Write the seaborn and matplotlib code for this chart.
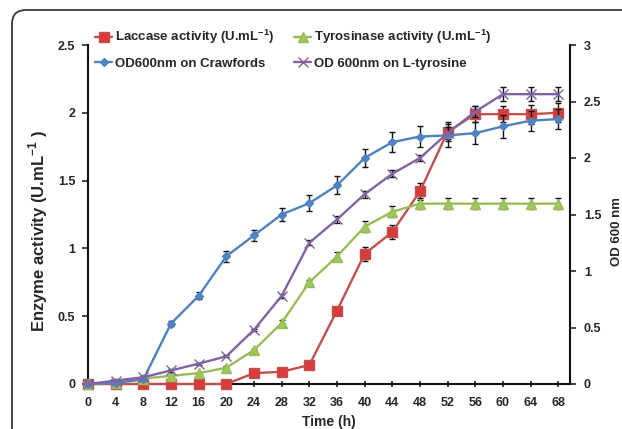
import matplotlib
matplotlib.use("Agg")
import matplotlib.pyplot as plt
import matplotlib.patches as mpatches
from matplotlib.transforms import IdentityTransform
import seaborn as sns

# -- data -------------------------------------------------------------------

TIME = [0, 4, 8, 12, 16, 20, 24, 28, 32, 36, 40, 44, 48, 52, 56, 60, 64, 68]

# enzyme activity, left axis (U/mL)
LACCASE = [0, 0, 0, 0, 0, 0, 0.08, 0.09, 0.14, 0.54, 0.96, 1.12, 1.42,
           1.86, 1.99, 1.99, 1.99, 2.0]
LACCASE_ERR = [0, 0, 0, 0, 0, 0, 0.01, 0.01, 0.01, 0.02, 0.05, 0.05, 0.06,
               0.07, 0.06, 0.06, 0.07, 0.07]
TYROSINASE = [0, 0.01, 0.04, 0.06, 0.08, 0.12, 0.25, 0.45, 0.75, 0.94, 1.16,
              1.27, 1.33, 1.33, 1.33, 1.33, 1.33, 1.33]
TYROSINASE_ERR = [0, 0, 0, 0, 0, 0.01, 0.01, 0.02, 0.02, 0.03, 0.04, 0.04,
                  0.04, 0.04, 0.04, 0.04, 0.04, 0.04]

# OD 600 nm, right axis
OD_CRAWFORDS = [0, 0.01, 0.04, 0.535, 0.78, 1.13, 1.315, 1.50, 1.60, 1.757,
                2.0, 2.14, 2.19, 2.20, 2.22, 2.28, 2.33, 2.345]
OD_CRAWFORDS_ERR = [0, 0, 0.01, 0.02, 0.03, 0.05, 0.05, 0.06, 0.07, 0.08,
                    0.08, 0.09, 0.09, 0.1, 0.1, 0.1, 0.09, 0.09]
OD_TYROSINE = [0, 0.03, 0.06, 0.12, 0.18, 0.245, 0.48, 0.78, 1.25, 1.456,
               1.68, 1.86, 2.0, 2.22, 2.41, 2.565, 2.565, 2.565]
OD_TYROSINE_ERR = [0, 0, 0.01, 0.01, 0.01, 0.01, 0.01, 0.02, 0.02, 0.03,
                   0.03, 0.03, 0.03, 0.05, 0.05, 0.06, 0.06, 0.06]

LEFT_TICKS = [0, 0.5, 1, 1.5, 2, 2.5]
LEFT_LABELS = ["0", "0.5", "1", "1.5", "2", "2.5"]
RIGHT_TICKS = [0, 0.5, 1, 1.5, 2, 2.5, 3]
RIGHT_LABELS = ["0", "0.5", "1", "1.5", "2", "2.5", "3"]

# -- style -------------------------------------------------------------------

sns.set_style("ticks")
plt.rcParams["font.family"] = ["Liberation Sans", "DejaVu Sans"]
plt.rcParams["mathtext.fontset"] = "custom"
plt.rcParams["mathtext.bf"] = "Liberation Sans:bold"
plt.rcParams["mathtext.rm"] = "Liberation Sans"

TXT = "#262626"
RED_LINE, RED_FILL = "#C0504D", "#D93B3B"
GREEN_LINE, GREEN_FILL = "#9BBB59", "#9CC957"
BLUE_LINE, BLUE_FILL = "#4F81BD", "#4A86C8"
PURPLE_LINE = "#8064A2"

W, H = 622, 429
fig = plt.figure(figsize=(W / 100, H / 100), dpi=100)
ax = fig.add_axes([88 / W, 1 - 384 / H, (570 - 88) / W, (384 - 45) / H])
ax2 = ax.twinx()

# rounded frame round the whole picture
frame = mpatches.FancyBboxPatch(
    (12, -30), 700, H - 10 + 30,
    boxstyle="round,pad=0,rounding_size=14",
    transform=IdentityTransform(), fill=False, ec="#3a3a3a", lw=1.3,
)
fig.patches.append(frame)


def draw(axis, y, err, line_c, fill_c, marker, ms, label):
    sns.lineplot(x=TIME, y=y, ax=axis, color=line_c, lw=1.7,
                 marker=marker, markersize=ms, markerfacecolor=fill_c,
                 markeredgecolor=line_c, markeredgewidth=1.0,
                 label=label, legend=False, clip_on=False, zorder=3)
    handle = axis.lines[-1]
    axis.errorbar(TIME, y, yerr=err, fmt="none", ecolor="#111111",
                  elinewidth=1.0, capsize=2.5, capthick=1.0, zorder=2,
                  clip_on=False)
    return handle


h_lac = draw(ax, LACCASE, LACCASE_ERR, RED_LINE, RED_FILL, "s", 7,
             r"Laccase activity (U.mL$^{\mathbf{-1}}$)")
h_tyr = draw(ax, TYROSINASE, TYROSINASE_ERR, GREEN_LINE, GREEN_FILL, "^", 7,
             r"Tyrosinase activity (U.mL$^{\mathbf{-1}}$)")
h_cra = draw(ax2, OD_CRAWFORDS, OD_CRAWFORDS_ERR, BLUE_LINE, BLUE_FILL, "D", 4.5,
             "OD600nm on Crawfords")
h_ltyr = draw(ax2, OD_TYROSINE, OD_TYROSINE_ERR, PURPLE_LINE, PURPLE_LINE, "x", 7,
              "OD 600nm on L-tyrosine")

# -- axes --------------------------------------------------------------------

ax.set_xlim(0, 69.7)
ax.set_ylim(0, 2.5)
ax2.set_ylim(0, 3)
ax.set_xticks(TIME)
ax.set_yticks(LEFT_TICKS)
ax2.set_yticks(RIGHT_TICKS)
ax.set_yticklabels(LEFT_LABELS)
ax2.set_yticklabels(RIGHT_LABELS)

for a in (ax, ax2):
    a.spines["top"].set_visible(False)
    for s in a.spines.values():
        s.set_linewidth(1.5)
        s.set_color("#111111")
ax.spines["right"].set_visible(False)
ax2.spines["left"].set_visible(False)
ax2.spines["bottom"].set_visible(False)

ax.tick_params(axis="x", direction="inout", length=5, width=1.2, pad=7,
               labelsize=9, labelcolor=TXT)
ax.tick_params(axis="y", direction="out", length=4, width=1.2, pad=5,
               labelsize=9, labelcolor=TXT)
ax2.tick_params(axis="y", direction="out", length=4, width=1.2, pad=6,
                labelsize=9, labelcolor=TXT)
for lab in ax.get_xticklabels() + ax.get_yticklabels() + ax2.get_yticklabels():
    lab.set_fontweight("bold")

ax.set_xlabel("Time (h)", fontsize=10, fontweight="bold", color=TXT, labelpad=4)
ax.set_ylabel(r"Enzyme activity (U.mL$^{\mathbf{-1}}$ )", fontsize=12,
              fontweight="bold", color=TXT)
ax.yaxis.set_label_coords(-0.078, 0.45)
ax2.set_ylabel("OD 600 nm", fontsize=9.5, fontweight="bold", color=TXT)
ax2.yaxis.set_label_coords(1.085, 0.45)

# -- legend: two columns at the top ------------------------------------------

leg_kw = dict(frameon=False, handlelength=1.3, handletextpad=0.25,
              labelspacing=0.85, borderpad=0, borderaxespad=0,
              prop={"weight": "bold", "size": 9.5},
              bbox_transform=fig.transFigure, loc="upper left")
leg1 = ax2.legend([h_lac, h_cra], [h_lac.get_label(), h_cra.get_label()],
                  bbox_to_anchor=(95 / W, 1 - 28 / H), **leg_kw)
ax2.add_artist(leg1)
leg2 = ax2.legend([h_tyr, h_ltyr], [h_tyr.get_label(), h_ltyr.get_label()],
                  bbox_to_anchor=(294 / W, 1 - 28 / H), **leg_kw)
for lg in (leg1, leg2):
    for t in lg.get_texts():
        t.set_color(TXT)

fig.savefig("out.png", dpi=100)
